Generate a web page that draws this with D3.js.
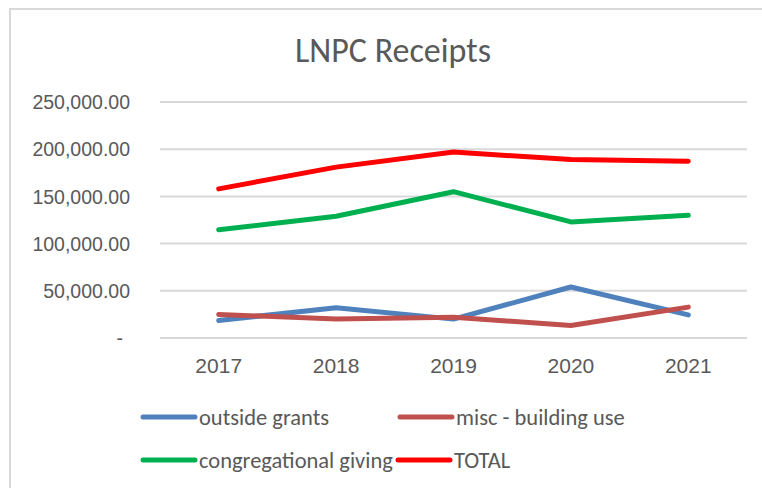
<!DOCTYPE html>
<html lang="en">
  <head>
    <meta charset="UTF-8" />
    <title>LNPC Receipts</title>
    <style>
      body { margin: 0; background: #fff; }
      svg { display: block; font-family: Carlito, Calibri, Lato, sans-serif; }
      text { fill: #595959; }
    </style>
  </head>
  <body>
    <svg width="762" height="488"></svg>
    <script src="https://cdn.jsdelivr.net/npm/d3@7/dist/d3.min.js"></script>
    <script>
      // data
      const years = ['2017', '2018', '2019', '2020', '2021'];
      const outsideGrants = [18600, 32000, 20000, 54000, 24500];
      const miscBuilding = [25000, 20000, 22000, 13300, 32700];
      const congregational = [114700, 129000, 155000, 123000, 130000];
      const total = [158000, 181000, 197000, 189000, 187300];
      const yTicks = [0, 50000, 100000, 150000, 200000, 250000];

      const series = [
        { name: 'outside grants', values: outsideGrants, color: '#4F81BD' },
        { name: 'misc - building use', values: miscBuilding, color: '#C0504D' },
        { name: 'congregational giving', values: congregational, color: '#00B050' },
        { name: 'TOTAL', values: total, color: '#FF0000' },
      ];

      const svg = d3.select('svg');

      // chart frame (only top/left visible in the crop)
      svg.append('rect')
        .attr('x', 10).attr('y', 9)
        .attr('width', 800).attr('height', 520)
        .attr('fill', 'none')
        .attr('stroke', '#D9D9D9')
        .attr('stroke-width', 2);

      svg.append('text')
        .text('LNPC Receipts')
        .attr('x', 393).attr('y', 62)
        .attr('text-anchor', 'middle')
        .attr('font-size', 34);

      const plotL = 160, plotR = 747, plotT = 102, plotB = 338;

      const x = d3.scaleBand().domain(years).range([plotL, plotR]);
      const y = d3.scaleLinear().domain([0, 250000]).range([plotB, plotT]);

      // gridlines
      svg.append('g')
        .selectAll('line')
        .data(yTicks)
        .join('line')
        .attr('x1', plotL).attr('x2', plotR)
        .attr('y1', (d) => y(d)).attr('y2', (d) => y(d))
        .attr('stroke', '#D9D9D9')
        .attr('stroke-width', 2);

      const fmt = d3.format(',.2f');
      const yAxis = svg.append('g')
        .attr('transform', 'translate(130,0)')
        .call(d3.axisLeft(y).tickValues(yTicks).tickSize(0).tickPadding(0)
          .tickFormat((d) => (d === 0 ? '-' : fmt(d))));
      yAxis.select('.domain').remove();
      yAxis.selectAll('text')
        .attr('font-size', 19.5)
        .attr('fill', '#595959')
        .attr('font-family', null)
        .attr('dy', '0.34em')
        .attr('dx', (d) => (d === 0 ? -7 : 0));

      const xAxis = svg.append('g')
        .attr('transform', `translate(0,${plotB})`)
        .call(d3.axisBottom(x).tickSize(0).tickPadding(0));
      xAxis.select('.domain').remove();
      xAxis.selectAll('text')
        .attr('font-size', 21)
        .attr('fill', '#595959')
        .attr('font-family', null)
        .attr('y', 35)
        .attr('dy', 0);

      const line = d3.line()
        .x((d, i) => x(years[i]) + x.bandwidth() / 2)
        .y((d) => y(d));

      svg.append('g')
        .selectAll('path')
        .data(series)
        .join('path')
        .attr('d', (d) => line(d.values))
        .attr('fill', 'none')
        .attr('stroke', (d) => d.color)
        .attr('stroke-width', 5)
        .attr('stroke-linecap', 'round')
        .attr('stroke-linejoin', 'round');

      // legend, two rows of two
      const legendPos = [
        [143, 417], [400, 417],
        [143, 460], [398, 460],
      ];
      const legend = svg.append('g')
        .selectAll('g')
        .data(series)
        .join('g')
        .attr('transform', (d, i) => `translate(${legendPos[i][0]},${legendPos[i][1]})`);
      legend.append('line')
        .attr('x1', 0).attr('x2', 52)
        .attr('stroke', (d) => d.color)
        .attr('stroke-width', 5)
        .attr('stroke-linecap', 'round');
      legend.append('text')
        .text((d) => d.name)
        .attr('x', 56)
        .attr('dy', '0.35em')
        .attr('font-size', 22.5);
    </script>
  </body>
</html>
